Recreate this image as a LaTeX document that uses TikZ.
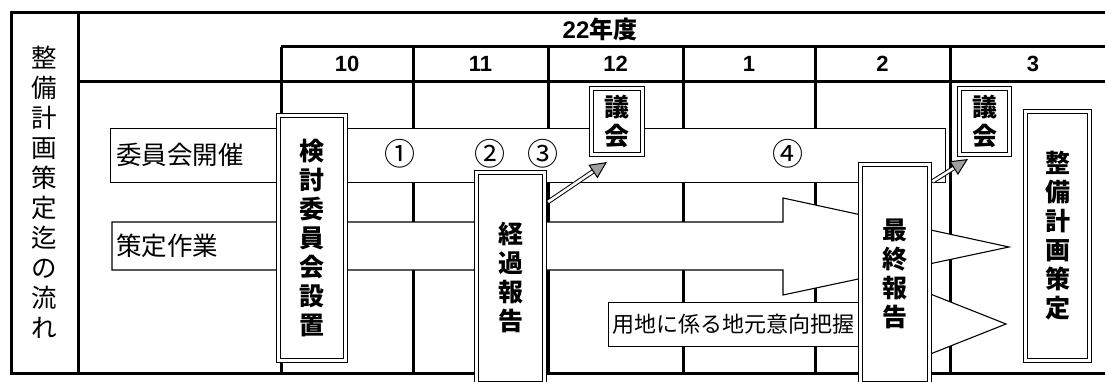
\documentclass[tikz,border=0pt]{standalone}
\usepackage{fontspec}
\newfontfamily\jp{Noto Sans CJK JP}
\newfontfamily\lat{Liberation Sans}
\usetikzlibrary{arrows.meta,calc}
\tikzset{
  gridline/.style={line width=3pt},
  bar/.style={draw, line width=1.1pt, fill=white},
  dbox/.style={draw, double=white, double distance=2.6pt, line width=1.1pt, fill=white, inner sep=0pt, align=center,
    font=\jp\bfseries\fontsize{25}{29}\selectfont},
  plain/.style={inner sep=0pt, font=\jp\fontsize{25.5}{30}\selectfont, align=center},
  head/.style={inner sep=0pt, font=\lat\bfseries\fontsize{22}{22}\selectfont},
  circ/.style={inner sep=0pt, font=\jp\fontsize{31}{31}\selectfont},
  darr/.style={double=white, double distance=2.6pt, line width=1pt,
    -{Triangle[length=17pt,width=16pt,fill=gray!75]}},
}
\begin{document}
\begin{tikzpicture}[x=1pt,y=-1pt]
\useasboundingbox (0,0) rectangle (1105,382);
\clip (0,0) rectangle (1105,382);
% frame and table grid
\draw[gridline] (1110,13) -- (11.5,13) -- (11.5,373) -- (1110,373);
\draw[gridline] (78,13) -- (78,373);
\draw[gridline] (281,47) -- (1110,47);
\draw[gridline] (78,82) -- (1110,82);
\foreach \x in {281,413,548,683,815,950}
  \draw[gridline] (\x,47) -- (\x,373);
% headings
\node[head, font=\lat\bfseries\fontsize{24}{24}\selectfont] (year) at (600,29) {22{\jp\bfseries 年度}};
\node[head] (m10) at (347,64) {10};
\node[head] (m11) at (480.5,64) {11};
\node[head] (m12) at (615.5,64) {12};
\node[head] (m1) at (749,64) {1};
\node[head] (m2) at (882.5,64) {2};
\node[head] (m3) at (1033,64) {3};
\node[plain] (side) at (44.5,192) {整\\備\\計\\画\\策\\定\\迄\\の\\流\\れ};
% committee bar
\node[bar, minimum width=835, minimum height=54, anchor=north west, inner sep=0pt] (iin) at (110,128) {};
\node[plain, anchor=west] (iint) at (116,155) {委員会開催};
% work arrow
\draw[bar] (112,222) -- (783,222) -- (783,198) -- (1009,247) -- (783,295) -- (783,270) -- (112,270) -- cycle;
\node[plain, anchor=west] (sak) at (116,246) {策定作業};
% land arrow
\draw[bar] (895,280) -- (1006,324) -- (895,368) -- cycle;
\node[bar, minimum width=252, minimum height=44, anchor=north west, inner sep=0pt] (yochi) at (608,302) {};
\node[plain, anchor=west, font=\jp\fontsize{22}{22}\selectfont] (yochit) at (612,324) {用地に係る地元意向把握};
% double boxes
\node[dbox, minimum width=67, minimum height=245] (ken) at (312,238) {検\\討\\委\\員\\会\\設\\置};
\node[dbox, minimum width=68, minimum height=211] (keika) at (510.5,278) {経\\過\\報\\告};
\node[dbox, minimum width=69, minimum height=219] (saishu) at (895,274) {最\\終\\報\\告};
\node[dbox, minimum width=51, minimum height=66] (g1) at (617,121.5) {議\\会};
\node[dbox, minimum width=50, minimum height=66] (g2) at (984.5,121.5) {議\\会};
\node[dbox, minimum width=64, minimum height=249] (seibi) at (1057.5,236) {整\\備\\計\\画\\策\\定};
% circled numbers
\node[circ] (c1) at (400,154) {①};
\node[circ] (c2) at (490,154) {②};
\node[circ] (c3) at (543,154) {③};
\node[circ] (c4) at (788,154) {④};
% report arrows
\draw[darr] ($(keika.north east)+(3,30)$) -- ($(g1.south west)+(16,7)$);
\draw[darr] ($(saishu.north east)+(2.5,17.5)$) -- ($(g2.south west)+(9,4)$);
\end{tikzpicture}
\end{document}
